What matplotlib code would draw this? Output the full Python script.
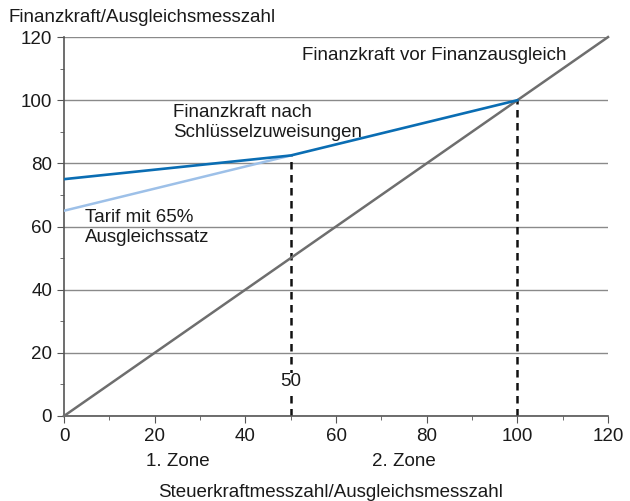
import matplotlib.pyplot as plt
from matplotlib.ticker import MultipleLocator

plt.rcParams['font.family'] = ['Liberation Sans', 'DejaVu Sans']

# data
diag_x = [0, 120]
diag_y = [0, 120]
nach_x = [0, 50, 100]
nach_y = [75, 82.5, 100]
tarif_x = [0, 50]
tarif_y = [65, 82.5]
dash_x = [50, 100]
dash_top = [82.5, 100]
zones = ['1. Zone', '2. Zone']
zone_x = [25, 75]

fig = plt.figure(figsize=(6.3, 5.01), dpi=100)
ax = fig.add_axes([0.1016, 0.1697, 0.8635, 0.7563])

fs = 13.5
ax.set_xlim(0, 120)
ax.set_ylim(0, 120)
ax.yaxis.set_major_locator(MultipleLocator(20))
ax.yaxis.set_minor_locator(MultipleLocator(10))
ax.xaxis.set_major_locator(MultipleLocator(20))
ax.xaxis.set_minor_locator(MultipleLocator(10))
ax.grid(axis='y', which='major', color='#8a8a8a', linewidth=1.0)
ax.set_axisbelow(True)

for s in ['top', 'right']:
    ax.spines[s].set_visible(False)
for s in ['left', 'bottom']:
    ax.spines[s].set_color('#555555')
    ax.spines[s].set_linewidth(1.2)
ax.tick_params(which='both', colors='#555555', labelcolor='#1a1a1a', labelsize=fs)
ax.tick_params(which='major', length=5)
ax.tick_params(which='minor', length=3)

ax.plot(diag_x, diag_y, color='#6e6e6e', linewidth=1.8, clip_on=False, zorder=3)
ax.plot(tarif_x, tarif_y, color='#9dc0e8', linewidth=1.8, zorder=4)
ax.plot(nach_x, nach_y, color='#0a6db3', linewidth=1.9, zorder=5)
for x, top in zip(dash_x, dash_top):
    ax.plot([x, x], [0, top], color='#111111', linewidth=1.8, linestyle=(0, (3, 2.2)), zorder=2)

ax.text(52.5, 114.3, 'Finanzkraft vor Finanzausgleich', fontsize=fs, va='center', color='#1a1a1a')
ax.text(24, 93, 'Finanzkraft nach\nSchlüsselzuweisungen', fontsize=fs, va='center',
        linespacing=1.25, color='#1a1a1a')
ax.text(4.6, 59.6, 'Tarif mit 65%\nAusgleichssatz', fontsize=fs, va='center',
        linespacing=1.25, color='#1a1a1a')
ax.text(50, 10.8, '50', fontsize=fs, ha='center', va='center', color='#1a1a1a',
        bbox=dict(facecolor='white', edgecolor='none', pad=0.5), zorder=6)

for lbl, x in zip(zones, zone_x):
    ax.text(x, -14.5, lbl, fontsize=fs, ha='center', va='center', color='#1a1a1a')

fig.text(0.013, 0.966, 'Finanzkraft/Ausgleichsmesszahl', fontsize=fs, va='center', color='#1a1a1a')
fig.text(0.525, 0.016, 'Steuerkraftmesszahl/Ausgleichsmesszahl', fontsize=fs, ha='center',
         va='center', color='#1a1a1a')

fig.savefig('out.png', dpi=100)
